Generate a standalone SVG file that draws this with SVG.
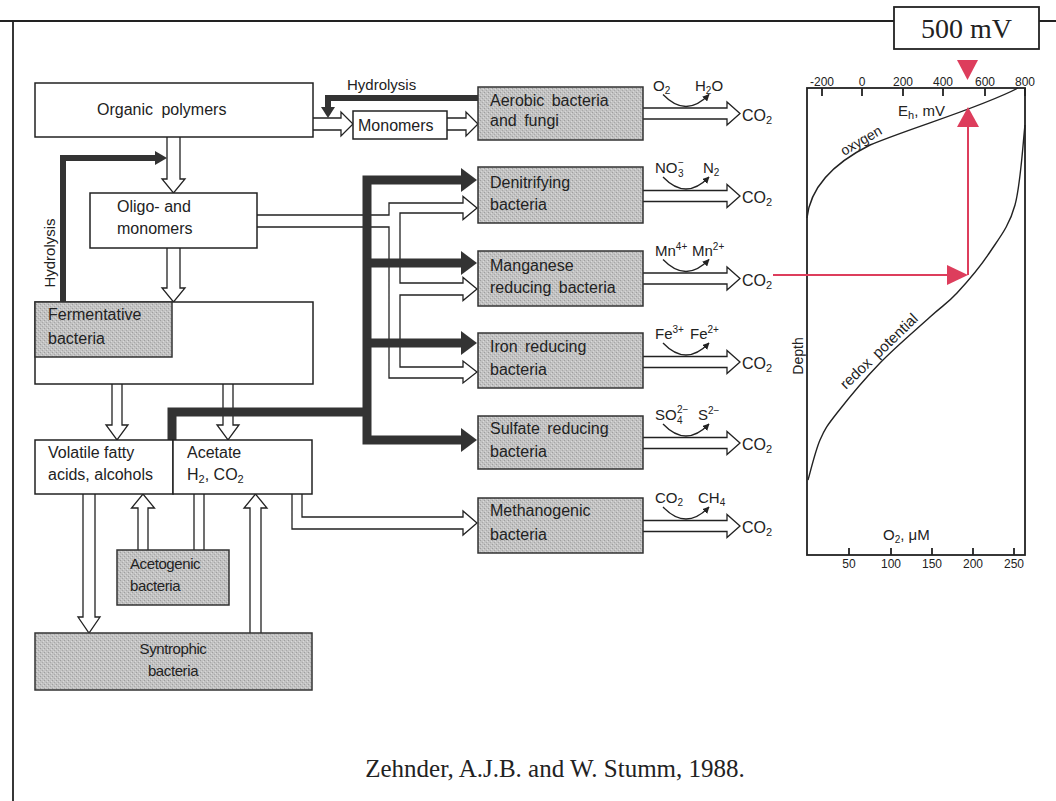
<svg xmlns="http://www.w3.org/2000/svg" width="1056" height="801" viewBox="0 0 1056 801">
<defs>
<style>
.t{font-family:"Liberation Sans",Arial,sans-serif;font-size:16px;fill:#222}
.s{font-size:15px}
.f14{font-size:14px}
.f10{font-size:10px}
.ax{font-size:12px}
.tr{font-family:"Liberation Serif","Times New Roman",serif;fill:#222}
.box{fill:#fff;stroke:#222;stroke-width:1.5}
.sh{fill:url(#stip);stroke:#333;stroke-width:1.5}
.ha{fill:#fff;stroke:#222;stroke-width:1.3;stroke-linejoin:miter}
.hl{fill:none;stroke:#222;stroke-width:1.3}
.tk{fill:none;stroke:#333;stroke-width:9;stroke-linejoin:miter}
.tk6{fill:none;stroke:#333;stroke-width:6;stroke-linejoin:miter}
.tkh{fill:#333}
.rx{fill:none;stroke:#222;stroke-width:1.3;marker-end:url(#ah)}
.red{stroke:#dd3d5c;stroke-width:2;fill:none}
.redf{fill:#dd3d5c}
.cv{fill:none;stroke:#222;stroke-width:1.4}
.fr{fill:none;stroke:#222;stroke-width:1.8}
</style>
<pattern id="stip" width="4" height="4" patternUnits="userSpaceOnUse">
<rect width="4" height="4" fill="#c2c2c2"/>
<rect x="0" y="0" width="1" height="1" fill="#9e9e9e"/>
<rect x="2" y="2" width="1" height="1" fill="#a8a8a8"/>
<rect x="3" y="1" width="1" height="1" fill="#dadada"/>
<rect x="1" y="3" width="1" height="1" fill="#d6d6d6"/>
</pattern>
<marker id="ah" viewBox="0 0 10 10" refX="9" refY="5" markerWidth="7" markerHeight="7" orient="auto" markerUnits="userSpaceOnUse">
<path d="M0,0 L10,5 L0,10 z" fill="#222"/>
</marker>
</defs>
<rect width="1056" height="801" fill="#fff"/>
<!-- page frame -->
<path d="M0,21 H1056 M13,21 V801" class="fr" stroke-width="2"/>

<g id="connectors">
<!-- hollow arrows, left column -->
<path class="ha" d="M167,137 V179 H162 L173.5,193 L185,179 H180 V137"/>
<path class="ha" d="M167,248 V288 H162 L173.5,302 L185,288 H180 V248"/>
<path class="ha" d="M112,384 V425 H106 L117,440 L128,425 H122 V384"/>
<path class="ha" d="M223,384 V425 H217 L228,440 L239,425 H233 V384"/>
<path class="ha" d="M83,494 V617 H78 L89,633 L100,617 H95 V494"/>
<path class="ha" d="M138,550 V508 H131.5 L143,494 L154.5,508 H148 V550"/>
<path class="hl" d="M194,494 V550 M204,494 V550"/>
<path class="ha" d="M250,633 V508 H244 L255.5,494 L267,508 H261 V633"/>
<path class="ha" d="M292,494 V529 H463 V535 L477,523 L463,511 V517 H302 V494"/>
<!-- monomers -->
<path class="ha" d="M313,118 H341 V112 L353,124 L341,136 V130 H313"/>
<path class="ha" d="M447,118 H466 V112 L478,124 L466,136 V130 H447"/>
<!-- oligo channel -->
<path class="ha" d="M257,215 H389 V203 H463 V196.5 L477,208 L463,219.5 V213 H400 V283 H463 V277.5 L477,289 L463,300.5 V295 H400 V367 H463 V361 L477,372 L463,383 V378 H389 V227 H257"/>
<!-- CO2 outputs -->
<path class="ha" d="M643,108 H727 V102 L740,113.5 L727,125 V119 H643"/>
<path class="ha" d="M643,190.5 H727 V184.5 L740,196 L727,207.5 V201.5 H643"/>
<path class="ha" d="M643,273 H727 V267 L740,278.5 L727,290 V284 H643"/>
<path class="ha" d="M643,356.5 H727 V350.5 L740,362 L727,373.5 V367.5 H643"/>
<path class="ha" d="M643,437.5 H727 V431.5 L740,443 L727,454.5 V448.5 H643"/>
<path class="ha" d="M643,520.5 H727 V514.5 L740,526 L727,537.5 V531.5 H643"/>
<!-- reaction curves -->
<path class="rx" d="M663,94.5 Q686,118.5 709,94.5"/>
<path class="rx" d="M663,177 Q686,201 709,177"/>
<path class="rx" d="M663,259.5 Q686,283.5 709,259.5"/>
<path class="rx" d="M663,343 Q686,367 709,343"/>
<path class="rx" d="M663,424 Q686,448 709,424"/>
<path class="rx" d="M663,507 Q686,531 709,507"/>
<!-- thick electron-donor bus -->
<path class="tk" d="M463,180 H367 V440 H463"/>
<path class="tk" d="M367,263 H463 M367,343 H463"/>
<path class="tk" d="M172,440 V412 H367"/>
<polygon class="tkh" points="461,168 477,180 461,192"/>
<polygon class="tkh" points="461,251 477,263 461,275"/>
<polygon class="tkh" points="461,331 477,343 461,355"/>
<polygon class="tkh" points="461,428 477,440 461,452"/>
<!-- hydrolysis arrows -->
<path class="tk6" d="M478,98 H328 V109"/>
<polygon class="tkh" points="321,107 335,107 328,118"/>
<path class="tk6" d="M63,302 V158 H156"/>
<polygon class="tkh" points="155,151 155,165 167,158"/>
</g>

<g id="labels-hydrolysis">
<text class="t s" x="347" y="90">Hydrolysis</text>
<text class="t s" x="55" y="253" text-anchor="middle" transform="rotate(-90 55 253)">Hydrolysis</text>
</g>

<g id="n-organic"><rect class="box" x="35" y="83" width="278" height="54"/><text class="t" x="97" y="115" word-spacing="4">Organic polymers</text></g>
<g id="n-monomers"><rect class="box" x="353" y="111" width="94" height="28"/><text class="t" x="358" y="131">Monomers</text></g>
<g id="n-oligo"><rect class="box" x="90" y="193" width="167" height="55"/><text class="t" x="117" y="212">Oligo- and</text><text class="t" x="117" y="234">monomers</text></g>
<g id="n-ferment"><rect class="box" x="35" y="302" width="278" height="82"/><rect class="sh" x="35" y="302" width="137" height="55"/><text class="t" x="48" y="320">Fermentative</text><text class="t" x="48" y="344">bacteria</text></g>
<g id="n-volatile"><rect class="box" x="35" y="440" width="138" height="54"/><text class="t" x="48" y="458">Volatile fatty</text><text class="t" x="48" y="480">acids, alcohols</text></g>
<g id="n-acetate"><rect class="box" x="173" y="440" width="139" height="54"/><text class="t" x="187" y="458">Acetate</text><text class="t" x="187" y="480">H<tspan font-size="11" dy="3">2</tspan><tspan dy="-3">, CO</tspan><tspan font-size="11" dy="3">2</tspan></text></g>
<g id="n-acetogenic"><rect class="sh" x="117" y="550" width="112" height="55"/><text class="t s" x="130" y="569" letter-spacing="-0.4">Acetogenic</text><text class="t s" x="130" y="591" letter-spacing="-0.4">bacteria</text></g>
<g id="n-syntrophic"><rect class="sh" x="35" y="633" width="277" height="57"/><text class="t s" x="173" y="654" text-anchor="middle" letter-spacing="-0.4">Syntrophic</text><text class="t s" x="173" y="676" text-anchor="middle" letter-spacing="-0.4">bacteria</text></g>

<g id="n-aerobic"><rect class="sh" x="478" y="87" width="165" height="53"/><text class="t" x="490" y="106" word-spacing="3">Aerobic bacteria</text><text class="t" x="490" y="126" word-spacing="3">and fungi</text></g>
<g id="n-denitrifying"><rect class="sh" x="478" y="167" width="165" height="56"/><text class="t" x="490" y="188">Denitrifying</text><text class="t" x="490" y="210">bacteria</text></g>
<g id="n-manganese"><rect class="sh" x="478" y="251" width="165" height="55"/><text class="t" x="490" y="271">Manganese</text><text class="t" x="490" y="293" word-spacing="3">reducing bacteria</text></g>
<g id="n-iron"><rect class="sh" x="478" y="333" width="165" height="55"/><text class="t" x="490" y="352" word-spacing="3">Iron reducing</text><text class="t" x="490" y="375">bacteria</text></g>
<g id="n-sulfate"><rect class="sh" x="478" y="416" width="165" height="53"/><text class="t" x="490" y="434" word-spacing="3">Sulfate reducing</text><text class="t" x="490" y="457">bacteria</text></g>
<g id="n-methanogenic"><rect class="sh" x="478" y="498" width="165" height="55"/><text class="t" x="490" y="516">Methanogenic</text><text class="t" x="490" y="540">bacteria</text></g>

<g id="reaction-labels">
<text class="t s" x="653" y="91">O<tspan font-size="10" dy="3">2</tspan></text>
<text class="t s" x="695" y="91">H<tspan font-size="10" dy="3">2</tspan><tspan dy="-3">O</tspan></text>
<text class="t s" x="655" y="173">NO</text><text class="t f10" x="678" y="166">−</text><text class="t f10" x="678" y="177">3</text>
<text class="t s" x="703" y="173">N<tspan font-size="10" dy="3">2</tspan></text>
<text class="t s" x="655" y="256">Mn<tspan font-size="10" dy="-6">4+</tspan></text>
<text class="t s" x="692" y="256">Mn<tspan font-size="10" dy="-6">2+</tspan></text>
<text class="t s" x="655" y="339">Fe<tspan font-size="10" dy="-6">3+</tspan></text>
<text class="t s" x="690" y="339">Fe<tspan font-size="10" dy="-6">2+</tspan></text>
<text class="t s" x="655" y="420">SO</text><text class="t f10" x="677" y="413">2−</text><text class="t f10" x="677" y="424">4</text>
<text class="t s" x="698" y="420">S<tspan font-size="10" dy="-6">2−</tspan></text>
<text class="t s" x="655" y="503">CO<tspan font-size="10" dy="3">2</tspan></text>
<text class="t s" x="698" y="503">CH<tspan font-size="10" dy="3">4</tspan></text>
</g>

<g id="co2-labels">
<text class="t" x="742" y="121">CO<tspan font-size="11" dy="3">2</tspan></text>
<text class="t" x="742" y="203">CO<tspan font-size="11" dy="3">2</tspan></text>
<text class="t" x="742" y="286">CO<tspan font-size="11" dy="3">2</tspan></text>
<text class="t" x="742" y="369">CO<tspan font-size="11" dy="3">2</tspan></text>
<text class="t" x="742" y="450">CO<tspan font-size="11" dy="3">2</tspan></text>
<text class="t" x="742" y="533">CO<tspan font-size="11" dy="3">2</tspan></text>
</g>

<g id="chart">
<rect class="fr" x="807" y="88" width="218" height="467"/>
<path class="fr" stroke-width="1.4" d="M822,88 V96 M862,88 V96 M903,88 V96 M943,88 V96 M985,88 V96 M1025,88 V96"/>
<g class="t ax" text-anchor="middle">
<text x="822" y="86">-200</text><text x="862" y="86">0</text><text x="903" y="86">200</text><text x="943" y="86">400</text><text x="985" y="86">600</text><text x="1025" y="86">800</text>
</g>
<path class="fr" stroke-width="1.4" d="M849,555 V548 M891,555 V548 M932,555 V548 M973,555 V548 M1014,555 V548"/>
<g class="t ax" text-anchor="middle">
<text x="849" y="568">50</text><text x="891" y="568">100</text><text x="932" y="568">150</text><text x="973" y="568">200</text><text x="1014" y="568">250</text>
</g>
<text class="t s" x="898" y="116">E<tspan font-size="11" dy="3">h</tspan><tspan dy="-3">, mV</tspan></text>
<text class="t s" x="883" y="540">O<tspan font-size="10" dy="3">2</tspan><tspan dy="-3">, μM</tspan></text>
<text class="t f14" x="803" y="356" text-anchor="middle" transform="rotate(-90 803 356)">Depth</text>
<path class="cv" d="M807,218 C810,190 830,165 870,145 C910,128 980,108 1018,88"/>
<path class="cv" d="M1025,125 C1023.3,138.3 1020.8,183.8 1015,205 C1009.2,226.2 999.7,237.3 990,252 C980.3,266.7 967,282.2 957,293 C947,303.8 942.8,305.3 930,317 C917.2,328.7 895.5,347 880,363 C864.5,379 847,400.2 837,413 C827,425.8 824.8,428.8 820,440 C815.2,451.2 810,473.3 808,480"/>
<text class="t f14" x="844" y="156" transform="rotate(-30 844 156)">oxygen</text>
<text class="t s" x="846" y="390" transform="rotate(-44 846 390)" word-spacing="3">redox potential</text>
<!-- red annotation -->
<path class="red" d="M773,275 H948 M968,126 V275"/>
<polygon class="redf" points="947,265 947,285 968,275"/>
<polygon class="redf" points="957,127 979,127 968,107"/>
<polygon class="redf" points="957,60 978,60 967.5,80"/>
</g>

<g id="n-500mv">
<rect x="894" y="7" width="145" height="42" fill="#fff" stroke="#222" stroke-width="1.8"/>
<text class="tr" x="966.5" y="38" font-size="28" text-anchor="middle">500 mV</text>
</g>

<text class="tr" x="555" y="777" font-size="25" text-anchor="middle">Zehnder, A.J.B. and W. Stumm, 1988.</text>
</svg>
